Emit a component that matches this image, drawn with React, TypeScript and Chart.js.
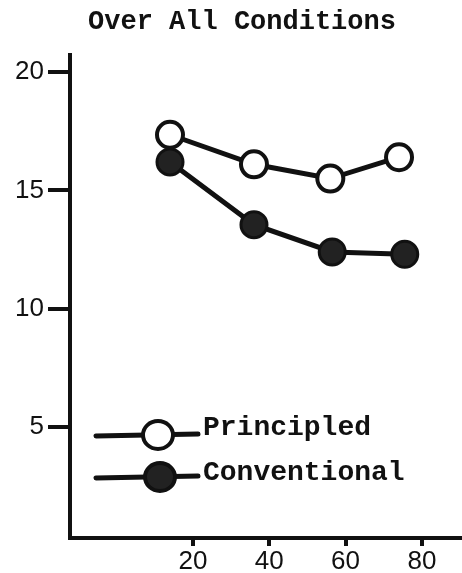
import React, { useEffect, useRef } from "react";
import { Chart, registerables } from "chart.js";

Chart.register(...registerables);

const titleText = "Over All Conditions";
const seriesNames = ["Principled", "Conventional"];
const principledX = [14, 36, 56, 74];
const principledY = [17.35, 16.1, 15.5, 16.4];
const conventionalX = [14, 36, 56.5, 75.5];
const conventionalY = [16.2, 13.55, 12.4, 12.3];
const xTicks = [20, 40, 60, 80];
const yTicks = [5, 10, 15, 20];

const MONO = "'Liberation Mono', 'DejaVu Sans Mono', monospace";
const SANS = "'Liberation Sans', 'DejaVu Sans', sans-serif";

const toPts = (xs: number[], ys: number[]) => xs.map((x, i) => ({ x, y: ys[i] }));

const overlayPlugin = {
  id: "overlay",
  afterDraw(chart: any) {
    const { ctx, chartArea } = chart;
    ctx.save();
    // title
    ctx.fillStyle = "#111";
    ctx.font = `bold 27px ${MONO}`;
    ctx.textAlign = "center";
    ctx.textBaseline = "middle";
    ctx.fillText(titleText, 242, 22);
    // legend
    const styles = [
      { fill: "#ffffff", y: chartArea.top + 380, mx: chartArea.left + 88, ty: chartArea.top + 373 },
      { fill: "#222222", y: chartArea.top + 422, mx: chartArea.left + 90, ty: chartArea.top + 418 },
    ];
    styles.forEach((s, i) => {
      ctx.strokeStyle = "#111";
      ctx.lineWidth = 5;
      ctx.lineCap = "round";
      ctx.beginPath();
      ctx.moveTo(chartArea.left + 26, s.y + 1);
      ctx.lineTo(chartArea.left + 128, s.y - 1);
      ctx.stroke();
      ctx.beginPath();
      ctx.ellipse(s.mx, s.y, 15, 14, 0, 0, Math.PI * 2);
      ctx.fillStyle = s.fill;
      ctx.fill();
      ctx.lineWidth = 4;
      ctx.stroke();
      ctx.fillStyle = "#111";
      ctx.font = `bold 28px ${MONO}`;
      ctx.textAlign = "left";
      ctx.textBaseline = "middle";
      ctx.fillText(seriesNames[i], chartArea.left + 133, s.ty);
    });
    ctx.restore();
  },
};

export default function App() {
  const ref = useRef<HTMLCanvasElement | null>(null);
  useEffect(() => {
    if (!ref.current) return;
    const chart = new Chart(ref.current, {
      type: "line",
      data: {
        datasets: [
          {
            label: seriesNames[0],
            data: toPts(principledX, principledY),
            borderColor: "#111",
            borderWidth: 5,
            pointRadius: 13,
            pointBorderWidth: 4,
            pointBackgroundColor: "#ffffff",
            pointBorderColor: "#111",
            tension: 0,
          },
          {
            label: seriesNames[1],
            data: toPts(conventionalX, conventionalY),
            borderColor: "#111",
            borderWidth: 5,
            pointRadius: 13,
            pointBorderWidth: 3,
            pointBackgroundColor: "#222",
            pointBorderColor: "#111",
            tension: 0,
          },
        ],
      },
      options: {
        animation: false,
        responsive: false,
        maintainAspectRatio: false,
        layout: { autoPadding: false, padding: { top: 55, left: 0, right: 0, bottom: 0 } },
        plugins: {
          legend: { display: false },
          title: { display: false },
          tooltip: { enabled: false },
        },
        scales: {
          x: {
            type: "linear",
            min: -12.2,
            max: 90.5,
            afterFit: (s: any) => {
              s.height = 35;
              s.paddingLeft = 0;
              s.paddingRight = 0;
            },
            afterBuildTicks: (s: any) => {
              s.ticks = xTicks.map((v) => ({ value: v }));
            },
            grid: {
              drawOnChartArea: false,
              drawTicks: true,
              tickLength: 8,
              lineWidth: 4,
              color: "#111",
            },
            border: { display: true, color: "#111", width: 4 },
            ticks: {
              color: "#111",
              font: { family: SANS, size: 26 },
              padding: 0,
              maxRotation: 0,
              autoSkip: false,
            },
          },
          y: {
            type: "linear",
            min: 0.31,
            max: 20.72,
            afterFit: (s: any) => {
              s.width = 70;
              s.paddingTop = 0;
              s.paddingBottom = 0;
            },
            afterBuildTicks: (s: any) => {
              s.ticks = yTicks.map((v) => ({ value: v }));
            },
            grid: {
              drawOnChartArea: false,
              drawTicks: true,
              tickLength: 22,
              lineWidth: 4,
              color: "#111",
            },
            border: { display: true, color: "#111", width: 4 },
            ticks: {
              color: "#111",
              font: { family: SANS, size: 26 },
              padding: 4,
              autoSkip: false,
            },
          },
        },
      },
      plugins: [overlayPlugin],
    });
    return () => chart.destroy();
  }, []);
  return (
    <div
      style={{
        position: "fixed",
        left: 0,
        top: 0,
        width: 462,
        height: 573,
        overflow: "hidden",
        background: "#fff",
      }}
    >
      <canvas ref={ref} width={462} height={573} style={{ display: "block", width: 462, height: 573 }} />
    </div>
  );
}
